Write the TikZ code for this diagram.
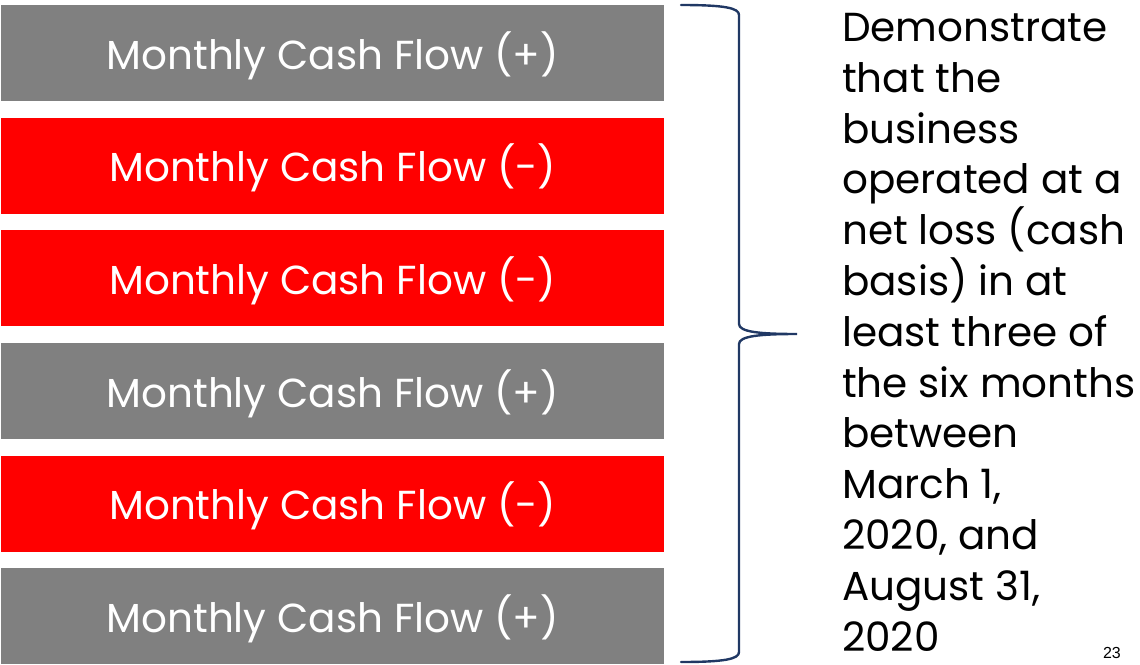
\documentclass[tikz,border=0pt]{standalone}
\usepackage{fontspec}
\setmainfont{Poppins}
\newfontfamily\numfont{Liberation Sans}
\definecolor{gry}{HTML}{808080}
\definecolor{rd}{HTML}{FF0000}
\definecolor{navy}{HTML}{203864}
\begin{document}
\begin{tikzpicture}[x=1pt,y=-1pt,
  cfbox/.style={anchor=north west, minimum width=663pt, minimum height=96pt, inner sep=0pt,
    text height=32pt, text depth=0pt,
    text=white, font=\fontsize{40.5}{48}\selectfont},
  bracestyle/.style={draw=navy, line width=2.4pt, line cap=round}]
\useasboundingbox (0,0) rectangle (1140,664);
\node[cfbox, fill=gry] (b1) at (1,5) {Monthly Cash Flow (+)};
\node[cfbox, fill=rd] (b2) at (1,117.6) {Monthly Cash Flow (-)};
\node[cfbox, fill=rd] (b3) at (1,230.2) {Monthly Cash Flow (-)};
\node[cfbox, fill=gry] (b4) at (1,342.8) {Monthly Cash Flow (+)};
\node[cfbox, fill=rd] (b5) at (1,455.4) {Monthly Cash Flow (-)};
\node[cfbox, fill=gry] (b6) at (1,568) {Monthly Cash Flow (+)};
\draw[bracestyle] (681,5) .. controls (725,5) and (739,8) .. (739,15) -- (739,324)
  .. controls (739,332) and (760,334) .. (797,334)
  .. controls (760,334) and (739,336) .. (739,344) -- (739,652)
  .. controls (739,659) and (725,662) .. (681,662);
\node[anchor=north west, inner sep=0pt, align=left, font=\fontsize{40.5}{50.8}\selectfont] (txt) at (842,13)
  {Demonstrate\\that the\\business\\operated at a\\net loss (cash\\basis) in at\\least three of\\the six months\\between\\March 1,\\2020, and\\August 31,\\2020};
\node[anchor=base east, inner sep=0pt, font=\numfont\fontsize{16}{18}\selectfont] (pg) at (1121,658) {23};
\end{tikzpicture}
\end{document}
